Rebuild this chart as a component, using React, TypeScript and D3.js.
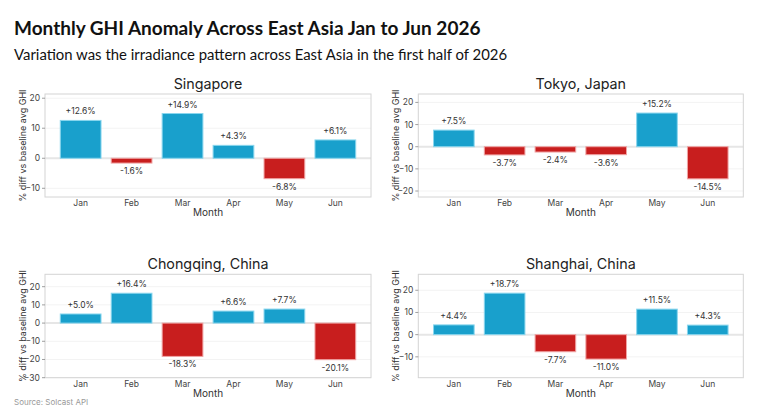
import React from "react";
import * as d3 from "d3";

// Monthly GHI anomaly (% difference vs baseline average), Jan–Jun 2026
const months = ["Jan", "Feb", "Mar", "Apr", "May", "Jun"];
const cities = ["Singapore", "Tokyo, Japan", "Chongqing, China", "Shanghai, China"];
const singapore = [12.6, -1.6, 14.9, 4.3, -6.8, 6.1];
const tokyo = [7.5, -3.7, -2.4, -3.6, 15.2, -14.5];
const chongqing = [5.0, 16.4, -18.3, 6.6, 7.7, -20.1];
const shanghai = [4.4, 18.7, -7.7, -11.0, 11.5, 4.3];
const seriesValues = [singapore, tokyo, chongqing, shanghai];
const yDomains: [number, number][] = [
  [-12.9, 21.4],
  [-22.7, 23.8],
  [-30, 26.8],
  [-19.4, 27.2],
];
const yTicks = [
  [-10, 0, 10, 20],
  [-20, -10, 0, 10, 20],
  [-30, -20, -10, 0, 10, 20],
  [-10, 0, 10, 20],
];

const W = 775;
const H = 411;
const FONT = "Inter, 'Noto Sans', sans-serif";
const TITLE_FONT = "Lato, 'Noto Sans', sans-serif";
const POS = "#19a0cc";
const POS_EDGE = "#8ad6ee";
const NEG = "#c81e1e";
const NEG_EDGE = "#f0a4a4";

const panels = [
  { x0: 45, x1: 371, y0: 94, y1: 197, labelX: 23 },
  { x0: 418.3, x1: 743.3, y0: 94, y1: 197, labelX: 396 },
  { x0: 45, x1: 371, y0: 274.3, y1: 377.7, labelX: 23 },
  { x0: 418.3, x1: 743.3, y0: 274.3, y1: 377.7, labelX: 396 },
];

function fmt(v: number) {
  return (v >= 0 ? "+" : "") + v.toFixed(1) + "%";
}

function Panel({ idx }: { idx: number }) {
  const p = panels[idx];
  const values = seriesValues[idx];
  const x = d3
    .scaleBand<string>()
    .domain(months)
    .range([p.x0, p.x1])
    .paddingInner(0.2)
    .paddingOuter(0.3);
  const y = d3.scaleLinear().domain(yDomains[idx]).range([p.y1, p.y0]);
  const cx = (p.x0 + p.x1) / 2;
  const cy = (p.y0 + p.y1) / 2;
  return (
    <g>
      <text x={cx} y={p.y0 - 5} textAnchor="middle" fontFamily={FONT} fontSize={14.3} fill="#222">
        {cities[idx]}
      </text>
      {/* gridlines */}
      {yTicks[idx].map((t) => (
        <line
          key={"g" + t}
          x1={p.x0}
          x2={p.x1}
          y1={y(t)}
          y2={y(t)}
          stroke={t === 0 ? "#e6e6e6" : "#f3f3f3"}
          strokeWidth={t === 0 ? 2 : 1}
        />
      ))}
      {/* bars */}
      {values.map((v, i) => {
        const top = y(Math.max(0, v));
        const bot = y(Math.min(0, v));
        return (
          <rect
            key={"b" + i}
            x={x(months[i])!}
            y={top}
            width={x.bandwidth()}
            height={bot - top}
            fill={v >= 0 ? POS : NEG}
            stroke={v >= 0 ? POS_EDGE : NEG_EDGE}
            strokeWidth={1}
          />
        );
      })}
      {/* value labels */}
      {values.map((v, i) => (
        <text
          key={"v" + i}
          x={x(months[i])! + x.bandwidth() / 2}
          y={v >= 0 ? y(v) - 6 : y(v) + 11}
          textAnchor="middle"
          fontFamily={FONT}
          fontSize={8.5}
          fill="#333"
        >
          {fmt(v)}
        </text>
      ))}
      {/* frame */}
      <rect x={p.x0} y={p.y0} width={p.x1 - p.x0} height={p.y1 - p.y0} fill="none" stroke="#d4d4d4" strokeWidth={1} />
      {/* y ticks */}
      {yTicks[idx].map((t) => (
        <g key={"t" + t}>
          <line x1={p.x0 - 3} x2={p.x0} y1={y(t)} y2={y(t)} stroke="#888" strokeWidth={0.8} />
          <text
            x={p.x0 - 5}
            y={y(t) + 3}
            textAnchor="end"
            fontFamily={FONT}
            fontSize={8.5}
            fill="#444"
          >
            {t === 0 ? "0" : d3.format("d")(t).replace("-", "\u2212")}
          </text>
        </g>
      ))}
      {/* x labels */}
      {months.map((m) => (
        <text
          key={"x" + m}
          x={x(m)! + x.bandwidth() / 2}
          y={p.y1 + 9}
          textAnchor="middle"
          fontFamily={FONT}
          fontSize={8.5}
          fill="#444"
        >
          {m}
        </text>
      ))}
      <text x={cx} y={p.y1 + 19} textAnchor="middle" fontFamily={FONT} fontSize={10} fill="#333">
        Month
      </text>
      <text
        transform={`translate(${p.labelX},${cy}) rotate(-90)`}
        textAnchor="middle"
        dy="0.35em"
        fontFamily={FONT}
        fontSize={9}
        fill="#333"
      >
        % diff vs baseline avg GHI
      </text>
    </g>
  );
}

export default function App() {
  return (
    <svg width={W} height={H} style={{ position: "absolute", left: 0, top: 0, background: "#fff" }}>
      <rect width={W} height={H} fill="#fff" />
      <text x={14} y={35} fontFamily={TITLE_FONT} fontWeight={700} fontSize={19} fill="#111">
        Monthly GHI Anomaly Across East Asia Jan to Jun 2026
      </text>
      <text x={14} y={59.5} fontFamily={TITLE_FONT} fontSize={14.9} fill="#111">
        Variation was the irradiance pattern across East Asia in the first half of 2026
      </text>
      {panels.map((_, i) => (
        <Panel key={i} idx={i} />
      ))}
      <text x={14} y={405} fontFamily={FONT} fontSize={8} fill="#999">
        Source: Solcast API
      </text>
    </svg>
  );
}
